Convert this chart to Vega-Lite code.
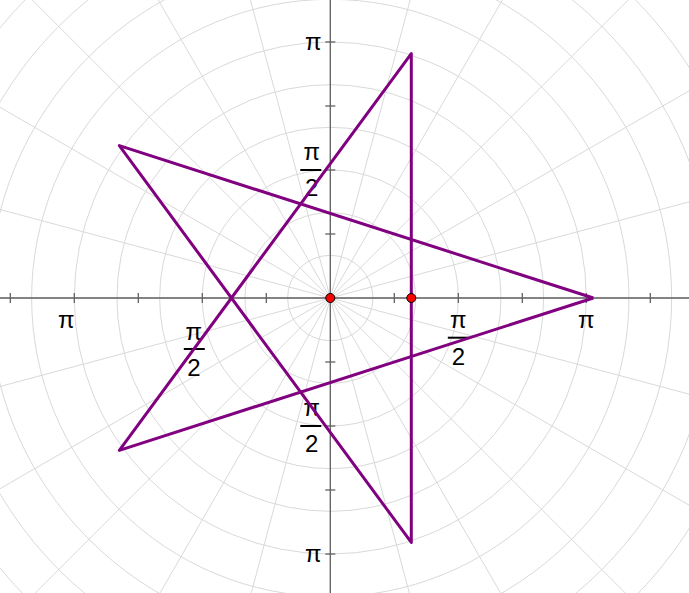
{
  "$schema": "https://vega.github.io/schema/vega-lite/v6.json",
  "width": 689,
  "height": 593,
  "padding": 0,
  "autosize": {"type": "none"},
  "background": "white",
  "config": {"view": {"stroke": null}},
  "datasets": {
    "circles": [
      {"x": 0, "y": 0, "r": 0.5236}, {"x": 0, "y": 0, "r": 1.0472}, {"x": 0, "y": 0, "r": 1.5708},
      {"x": 0, "y": 0, "r": 2.0944}, {"x": 0, "y": 0, "r": 2.618}, {"x": 0, "y": 0, "r": 3.1416},
      {"x": 0, "y": 0, "r": 3.6652}, {"x": 0, "y": 0, "r": 4.1888}, {"x": 0, "y": 0, "r": 4.7124},
      {"x": 0, "y": 0, "r": 5.236}, {"x": 0, "y": 0, "r": 5.7596}
    ],
    "spokes": [
      {"x": 6, "y": 0, "x2": -6, "y2": 0},
      {"x": 5.7956, "y": 1.5529, "x2": -5.7956, "y2": -1.5529},
      {"x": 5.1962, "y": 3, "x2": -5.1962, "y2": -3},
      {"x": 4.2426, "y": 4.2426, "x2": -4.2426, "y2": -4.2426},
      {"x": 3, "y": 5.1962, "x2": -3, "y2": -5.1962},
      {"x": 1.5529, "y": 5.7956, "x2": -1.5529, "y2": -5.7956},
      {"x": 0, "y": 6, "x2": 0, "y2": -6},
      {"x": -1.5529, "y": 5.7956, "x2": 1.5529, "y2": -5.7956},
      {"x": -3, "y": 5.1962, "x2": 3, "y2": -5.1962},
      {"x": -4.2426, "y": 4.2426, "x2": 4.2426, "y2": -4.2426},
      {"x": -5.1962, "y": 3, "x2": 5.1962, "y2": -3},
      {"x": -5.7956, "y": 1.5529, "x2": 5.7956, "y2": -1.5529}
    ],
    "axes": [
      {"x": -4.2, "y": 0, "x2": 4.5, "y2": 0},
      {"x": 0, "y": -3.8, "x2": 0, "y2": 3.8}
    ],
    "hticks": [
      {"x": -3.927, "y": 0}, {"x": -3.1416, "y": 0}, {"x": -2.3562, "y": 0}, {"x": -1.5708, "y": 0}, {"x": -0.7854, "y": 0},
      {"x": 0.7854, "y": 0}, {"x": 1.5708, "y": 0}, {"x": 2.3562, "y": 0}, {"x": 3.1416, "y": 0}, {"x": 3.927, "y": 0}
    ],
    "vticks": [
      {"x": 0, "y": -3.1416}, {"x": 0, "y": -2.3562}, {"x": 0, "y": -1.5708}, {"x": 0, "y": -0.7854},
      {"x": 0, "y": 0.7854}, {"x": 0, "y": 1.5708}, {"x": 0, "y": 2.3562}, {"x": 0, "y": 3.1416}
    ],
    "hPiNeg": [{"x": -3.1416, "y": 0, "t": "π"}],
    "hPiPos": [{"x": 3.1416, "y": 0, "t": "π"}],
    "hHalfNeg": [{"x": -1.5708, "y": 0, "num": "π", "den": "2"}],
    "hHalfPos": [{"x": 1.5708, "y": 0, "num": "π", "den": "2"}],
    "vPi": [{"x": 0, "y": 3.1416, "t": "π"}, {"x": 0, "y": -3.1416, "t": "π"}],
    "vHalf": [{"x": 0, "y": 1.5708, "num": "π", "den": "2"}, {"x": 0, "y": -1.5708, "num": "π", "den": "2"}],
    "star": [
      {"x": 3.228, "y": 0, "o": 0},
      {"x": -2.589, "y": 1.87, "o": 1},
      {"x": 0.994, "y": -3.0, "o": 2},
      {"x": 0.994, "y": 3.0, "o": 3},
      {"x": -2.589, "y": -1.87, "o": 4},
      {"x": 3.228, "y": 0, "o": 5}
    ],
    "points": [{"x": 0, "y": 0}, {"x": 0.994, "y": 0}]
  },
  "encoding": {
    "x": {"field": "x", "type": "quantitative", "scale": {"domain": [-4.0534, 4.4019], "nice": false, "zero": false}, "axis": null},
    "y": {"field": "y", "type": "quantitative", "scale": {"domain": [-3.6202, 3.657], "nice": false, "zero": false}, "axis": null}
  },
  "layer": [
    {
      "data": {"name": "spokes"},
      "mark": {"type": "rule", "stroke": "#d9d9d9", "strokeWidth": 1, "clip": true},
      "encoding": {"x2": {"field": "x2"}, "y2": {"field": "y2"}}
    },
    {
      "data": {"name": "circles"},
      "mark": {"type": "point", "shape": "circle", "filled": false, "stroke": "#d9d9d9", "strokeWidth": 1, "opacity": 1, "clip": true},
      "encoding": {
        "size": {"field": "r", "type": "quantitative", "scale": {"type": "pow", "exponent": 2, "domain": [0, 6], "range": [0, 956186]}, "legend": null}
      }
    },
    {
      "data": {"name": "axes"},
      "mark": {"type": "rule", "stroke": "#606060", "strokeWidth": 1.3, "clip": true},
      "encoding": {"x2": {"field": "x2"}, "y2": {"field": "y2"}}
    },
    {
      "data": {"name": "hticks"},
      "mark": {"type": "tick", "orient": "vertical", "size": 10, "thickness": 1.3, "color": "#606060", "opacity": 1}
    },
    {
      "data": {"name": "vticks"},
      "mark": {"type": "tick", "orient": "horizontal", "size": 10, "thickness": 1.3, "color": "#606060", "opacity": 1}
    },
    {
      "data": {"name": "hPiNeg"},
      "mark": {"type": "text", "font": "Liberation Sans", "fontSize": 24, "align": "center", "baseline": "alphabetic", "dx": -8, "dy": 30.5, "color": "black"},
      "encoding": {"text": {"field": "t"}}
    },
    {
      "data": {"name": "hPiPos"},
      "mark": {"type": "text", "font": "Liberation Sans", "fontSize": 24, "align": "center", "baseline": "alphabetic", "dx": 0, "dy": 30, "color": "black"},
      "encoding": {"text": {"field": "t"}}
    },
    {
      "data": {"name": "hHalfPos"},
      "mark": {"type": "text", "font": "Liberation Sans", "fontSize": 24, "align": "center", "baseline": "alphabetic", "dx": 0, "dy": 29.7, "color": "black"},
      "encoding": {"text": {"field": "num"}}
    },
    {
      "data": {"name": "hHalfPos"},
      "mark": {"type": "text", "font": "Liberation Sans", "fontSize": 24, "align": "center", "baseline": "alphabetic", "dx": 0, "dy": 67, "color": "black"},
      "encoding": {"text": {"field": "den"}}
    },
    {
      "data": {"name": "hHalfPos"},
      "mark": {"type": "tick", "orient": "horizontal", "size": 21, "thickness": 2, "color": "black", "opacity": 1, "yOffset": 39.7}
    },
    {
      "data": {"name": "hHalfNeg"},
      "mark": {"type": "text", "font": "Liberation Sans", "fontSize": 24, "align": "center", "baseline": "alphabetic", "dx": -8.5, "dy": 42, "color": "black"},
      "encoding": {"text": {"field": "num"}}
    },
    {
      "data": {"name": "hHalfNeg"},
      "mark": {"type": "text", "font": "Liberation Sans", "fontSize": 24, "align": "center", "baseline": "alphabetic", "dx": -8.5, "dy": 77.7, "color": "black"},
      "encoding": {"text": {"field": "den"}}
    },
    {
      "data": {"name": "hHalfNeg"},
      "mark": {"type": "tick", "orient": "horizontal", "size": 21, "thickness": 2, "color": "black", "opacity": 1, "yOffset": 51, "xOffset": -8}
    },
    {
      "data": {"name": "vPi"},
      "mark": {"type": "text", "font": "Liberation Sans", "fontSize": 24, "align": "center", "baseline": "alphabetic", "dx": -17, "dy": 8, "color": "black"},
      "encoding": {"text": {"field": "t"}}
    },
    {
      "data": {"name": "vHalf"},
      "mark": {"type": "text", "font": "Liberation Sans", "fontSize": 24, "align": "center", "baseline": "alphabetic", "dx": -18.6, "dy": -9.7, "color": "black"},
      "encoding": {"text": {"field": "num"}}
    },
    {
      "data": {"name": "vHalf"},
      "mark": {"type": "text", "font": "Liberation Sans", "fontSize": 24, "align": "center", "baseline": "alphabetic", "dx": -18.6, "dy": 25.7, "color": "black"},
      "encoding": {"text": {"field": "den"}}
    },
    {
      "data": {"name": "vHalf"},
      "mark": {"type": "tick", "orient": "horizontal", "size": 21, "thickness": 2, "color": "black", "opacity": 1, "xOffset": -19.5}
    },
    {
      "data": {"name": "star"},
      "mark": {"type": "line", "stroke": "#800080", "strokeWidth": 3, "strokeJoin": "round", "clip": true},
      "encoding": {"order": {"field": "o", "type": "quantitative"}}
    },
    {
      "data": {"name": "points"},
      "mark": {"type": "point", "shape": "circle", "filled": true, "fill": "#ff0000", "stroke": "black", "strokeWidth": 1, "size": 81, "opacity": 1}
    }
  ]
}
